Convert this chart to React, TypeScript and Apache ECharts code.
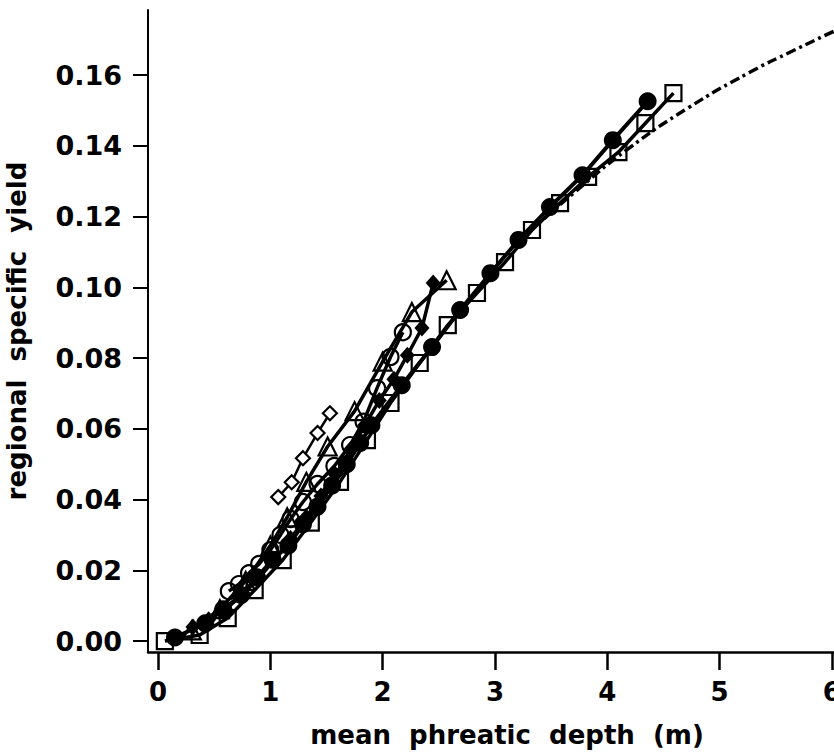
import React, { useEffect, useRef } from "react";
import * as echarts from "echarts";

const xTicks = [0, 1, 2, 3, 4, 5, 6];
const yTicks = [0, 0.02, 0.04, 0.06, 0.08, 0.1, 0.12, 0.14, 0.16];

// Filled circles
const circFilledX = [0.15, 0.42, 0.58, 0.74, 0.88, 1.02, 1.16, 1.29, 1.42, 1.55, 1.68, 1.8, 1.9, 2.17, 2.44, 2.69, 2.96, 3.21, 3.49, 3.78, 4.05, 4.36];
const circFilledY = [0.001, 0.005, 0.009, 0.013, 0.018, 0.023, 0.027, 0.033, 0.038, 0.044, 0.05, 0.056, 0.061, 0.0723, 0.0831, 0.0936, 0.104, 0.1134, 0.1227, 0.1317, 0.1416, 0.1526];

// Open squares
const squareX = [0.06, 0.37, 0.62, 0.86, 1.11, 1.36, 1.62, 1.86, 2.07, 2.33, 2.58, 2.84, 3.09, 3.33, 3.58, 3.83, 4.1, 4.34, 4.59];
const squareY = [0.0, 0.0017, 0.0065, 0.0144, 0.0229, 0.0335, 0.045, 0.0568, 0.0673, 0.0786, 0.0893, 0.0984, 0.1071, 0.1162, 0.1238, 0.1312, 0.1382, 0.1464, 0.1549];

// Open circles
const circOpenX = [0.63, 0.72, 0.81, 0.9, 1.0, 1.09, 1.18, 1.29, 1.42, 1.57, 1.71, 1.83, 1.95, 2.07, 2.18];
const circOpenY = [0.0141, 0.0161, 0.0192, 0.0218, 0.0257, 0.03, 0.0345, 0.0393, 0.0444, 0.0495, 0.0554, 0.062, 0.0715, 0.0803, 0.0873];

// Filled diamonds
const diamFilledX = [0.31, 0.45, 0.6, 0.75, 0.9, 1.04, 1.18, 1.32, 1.45, 1.58, 1.71, 1.84, 1.97, 2.1, 2.22, 2.35, 2.45];
const diamFilledY = [0.004, 0.006, 0.009, 0.013, 0.018, 0.023, 0.029, 0.035, 0.041, 0.047, 0.054, 0.061, 0.068, 0.074, 0.0808, 0.0885, 0.1012];

// Open triangles
const triX = [0.3, 0.55, 0.78, 1.0, 1.15, 1.32, 1.51, 1.75, 2.0, 2.26, 2.57];
const triY = [0.003, 0.009, 0.017, 0.027, 0.035, 0.045, 0.055, 0.065, 0.079, 0.093, 0.102];

// Open diamonds (small)
const diamOpenX = [1.07, 1.19, 1.29, 1.42, 1.53];
const diamOpenY = [0.0407, 0.0449, 0.0517, 0.0588, 0.0644];

// Fitted curve (dash-dot)
const fitX = [3.3, 3.7, 4.18, 4.72, 5.27, 5.65, 6.02];
const fitY = [0.1155, 0.1266, 0.139, 0.1507, 0.1608, 0.1668, 0.1724];

const zip = (xs: number[], ys: number[]) => xs.map((x, i) => [x, ys[i]]);

const FONT = "DejaVu Sans";
const BLACK = "#000";

export default function App() {
  const ref = useRef<HTMLDivElement>(null);
  useEffect(() => {
    if (!ref.current) return;
    const chart = echarts.init(ref.current, null, { renderer: "svg" });
    const openStyle = { color: "rgba(0,0,0,0)", borderColor: BLACK, borderWidth: 2.2 };
    const line = (width: number) => ({ color: BLACK, width });
    chart.setOption({
      animation: false,
      backgroundColor: "#fff",
      grid: {
        left: 148,
        right: 0,
        top: 10,
        bottom: 102,
        containLabel: false,
        outerBoundsMode: "none",
      },
      xAxis: {
        type: "value",
        min: -0.09,
        max: 6.02,
        name: "mean  phreatic  depth  (m)",
        nameLocation: "middle",
        nameGap: 70,
        nameTextStyle: {
          fontFamily: FONT,
          fontWeight: "bold",
          fontSize: 26,
          color: BLACK,
          padding: [0, 0, 0, 32],
        },
        axisLine: { onZero: false, lineStyle: { color: BLACK, width: 2.5 } },
        axisTick: { length: 18, lineStyle: { color: BLACK, width: 2.5 }, customValues: xTicks },
        axisLabel: {
          customValues: xTicks,
          fontFamily: FONT,
          fontWeight: "bold",
          fontSize: 26,
          color: BLACK,
          margin: 27,
          formatter: (v: number) => String(v),
        },
        splitLine: { show: false },
      },
      yAxis: {
        type: "value",
        min: -0.0031,
        max: 0.1784,
        name: "regional  specific  yield",
        nameLocation: "middle",
        nameGap: 118,
        nameTextStyle: { fontFamily: FONT, fontWeight: "bold", fontSize: 26, color: BLACK },
        axisLine: { onZero: false, lineStyle: { color: BLACK, width: 2 } },
        axisTick: { length: 15, lineStyle: { color: BLACK, width: 2 }, customValues: yTicks },
        axisLabel: {
          customValues: yTicks,
          fontFamily: FONT,
          fontWeight: "bold",
          fontSize: 27,
          color: BLACK,
          margin: 26,
          formatter: (v: number) => v.toFixed(2),
        },
        splitLine: { show: false },
      },
      series: [
        {
          type: "line",
          data: zip(fitX, fitY),
          smooth: true,
          showSymbol: false,
          symbol: "none",
          lineStyle: { color: BLACK, width: 3.5, type: [10, 4, 3, 4] },
        },
        {
          type: "line",
          data: zip(circOpenX, circOpenY),
          symbol: "circle",
          symbolSize: 16,
          itemStyle: openStyle,
          lineStyle: line(3.5),
        },
        {
          type: "line",
          data: zip(triX, triY),
          symbol: "triangle",
          symbolSize: 18,
          itemStyle: openStyle,
          lineStyle: line(3.5),
        },
        {
          type: "line",
          data: zip(diamFilledX, diamFilledY),
          symbol: "diamond",
          symbolSize: [15, 17],
          itemStyle: { color: BLACK },
          lineStyle: line(3.5),
        },
        {
          type: "line",
          data: zip(diamOpenX, diamOpenY),
          symbol: "diamond",
          symbolSize: 14,
          itemStyle: { color: "#fff", borderColor: BLACK, borderWidth: 2.2 },
          lineStyle: line(2.5),
        },
        {
          type: "line",
          data: zip(circFilledX, circFilledY),
          symbol: "circle",
          symbolSize: 18,
          itemStyle: { color: BLACK },
          lineStyle: line(4),
        },
        {
          type: "line",
          data: zip(squareX, squareY),
          symbol: "rect",
          symbolSize: 16,
          itemStyle: openStyle,
          lineStyle: line(3.5),
        },
      ],
    });
    return () => chart.dispose();
  }, []);
  return (
    <div
      ref={ref}
      style={{ position: "absolute", left: 0, top: 0, width: 834, height: 754, background: "#fff" }}
    />
  );
}
